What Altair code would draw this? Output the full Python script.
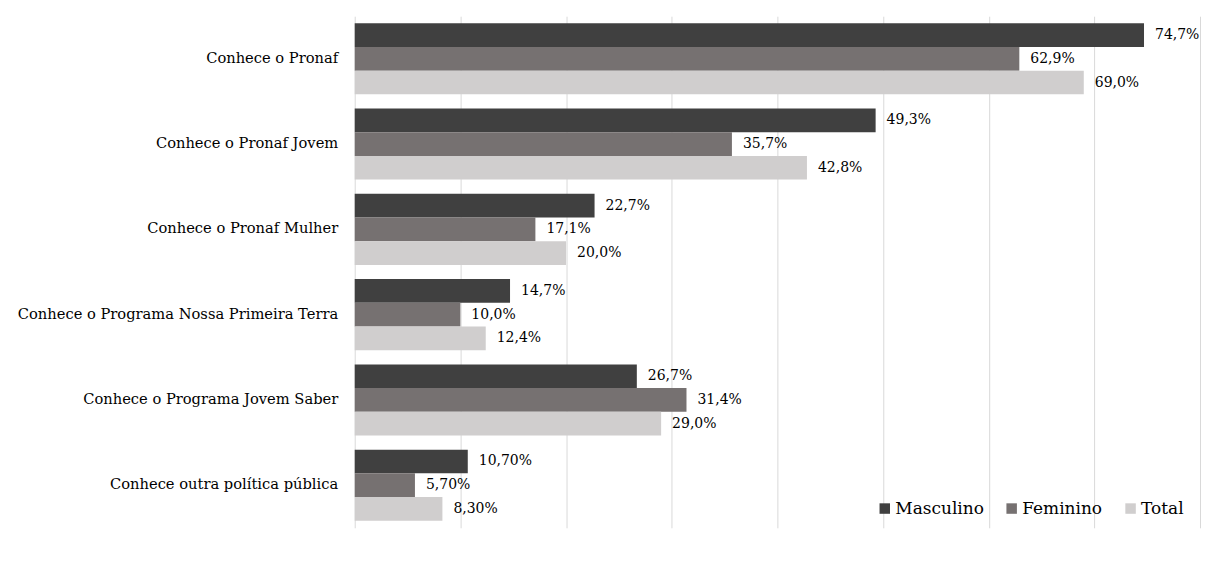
import altair as alt
import pandas as pd

categories = [
    "Conhece o Pronaf",
    "Conhece o Pronaf Jovem",
    "Conhece o Pronaf Mulher",
    "Conhece o Programa Nossa Primeira Terra",
    "Conhece o Programa Jovem Saber",
    "Conhece outra política pública",
]
series = ["Masculino", "Feminino", "Total"]
masculino = [74.7, 49.3, 22.7, 14.7, 26.7, 10.7]
feminino = [62.9, 35.7, 17.1, 10.0, 31.4, 5.7]
total = [69.0, 42.8, 20.0, 12.4, 29.0, 8.3]
masculino_lbl = ["74,7%", "49,3%", "22,7%", "14,7%", "26,7%", "10,70%"]
feminino_lbl = ["62,9%", "35,7%", "17,1%", "10,0%", "31,4%", "5,70%"]
total_lbl = ["69,0%", "42,8%", "20,0%", "12,4%", "29,0%", "8,30%"]
colors = ["#404040", "#767171", "#d0cece"]

rows = []
for vals, lbls, s in [(masculino, masculino_lbl, "Masculino"),
                      (feminino, feminino_lbl, "Feminino"),
                      (total, total_lbl, "Total")]:
    for c, v, l in zip(categories, vals, lbls):
        rows.append({"categoria": c, "serie": s, "valor": v, "rotulo": l})
df = pd.DataFrame(rows)

FONT = "DejaVu Serif"

y_enc = alt.Y("categoria:N", sort=categories, title=None,
              scale=alt.Scale(paddingInner=0.167, paddingOuter=0.0835),
              axis=alt.Axis(labelFont=FONT, labelFontSize=14.7, labelColor="#000000",
                            labelPadding=17, ticks=False, domain=False, labelLimit=400))
yoff = alt.YOffset("serie:N", sort=series, scale=alt.Scale(paddingInner=0, paddingOuter=0))
x_enc = alt.X("valor:Q", title=None,
              scale=alt.Scale(domain=[0, 80], nice=False),
              axis=alt.Axis(values=[0, 10, 20, 30, 40, 50, 60, 70, 80], labels=False,
                            ticks=False, domain=False, grid=True,
                            gridColor="#d9d9d9", gridWidth=1))

bars = alt.Chart(df).mark_bar().encode(
    y=y_enc, yOffset=yoff, x=x_enc,
    color=alt.Color("serie:N", sort=series,
                    scale=alt.Scale(domain=series, range=colors),
                    legend=alt.Legend(title=None, orient="none", direction="horizontal",
                                      legendX=522, legendY=484,
                                      symbolType="square", symbolSize=110,
                                      symbolStrokeWidth=0, labelFont=FONT,
                                      labelFontSize=17, labelColor="#000000",
                                      columnPadding=19, labelOffset=2)),
)

text = alt.Chart(df).mark_text(align="left", baseline="middle", dx=11,
                               font=FONT, fontSize=14, color="#000000").encode(
    y=alt.Y("categoria:N", sort=categories), yOffset=yoff,
    x="valor:Q", text="rotulo:N",
)

chart = (bars + text).properties(
    width=846, height=512,
    padding={"left": 347, "top": 8, "right": 10, "bottom": 10},
    autosize=alt.AutoSizeParams(type="none"),
).configure(background="#ffffff").configure_view(strokeWidth=0)

chart.save("out.html", embed_options={"renderer": "svg", "actions": False})
